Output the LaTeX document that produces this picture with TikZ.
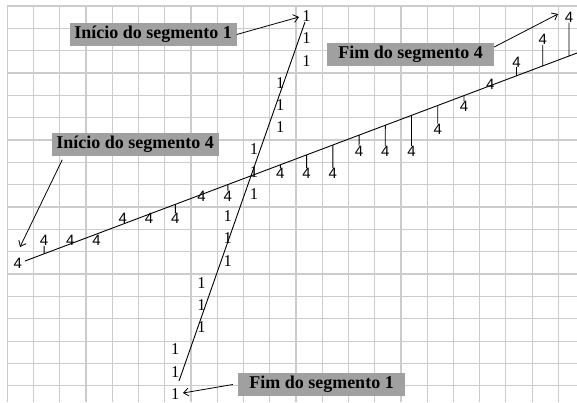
\documentclass[tikz,border=0pt]{standalone}
\usepackage{fontspec}
\setmainfont{Liberation Serif}
\newfontfamily\sansdigits{Liberation Sans}
\usetikzlibrary{arrows.meta,calc}
\definecolor{gridgray}{RGB}{204,204,204}
\definecolor{boxgray}{RGB}{160,160,160}
\begin{document}
\begin{tikzpicture}[x=1pt,y=-1pt,
  gridline/.style={draw=gridgray,line width=1.2pt},
  seg/.style={draw=black,line width=0.9pt},
  tickline/.style={draw=black,line width=0.9pt},
  callout/.style={fill=boxgray,inner sep=0pt,minimum height=23pt,minimum width=167pt,font=\fontsize{18}{18}\selectfont\bfseries},
  pointer/.style={draw=black,line width=0.8pt,-{Straight Barb[length=5pt,width=8pt]}},
  one/.style={inner sep=0pt,font=\fontsize{16.5}{16.5}\selectfont},
  four/.style={inner sep=0pt,font=\sansdigits\fontsize{15}{15}\selectfont},
]
\useasboundingbox (0,0) rectangle (577,402);
\fill[white] (0,0) rectangle (577,402);
% grid
\foreach \k in {0,...,21} \draw[gridline] ({7.3+26.24*\k},6) -- ({7.3+26.24*\k},402);
\foreach \k in {0,...,17} \draw[gridline] (7.3,{6+22.34*\k}) -- (577,{6+22.34*\k});
% segments
\coordinate (s1a) at (179,381);
\coordinate (s1b) at (305,22);
\coordinate (s4a) at (25,261);
\coordinate (s4b) at (577,53);
\draw[seg] (s1a) -- (s1b);
\draw[seg] (s4a) -- (s4b);
% pixels of segment 1
\foreach \i/\j [count=\n] in {11/0,11/1,11/2,10/3,10/4,10/5,9/6,9/7,9/8,8/9,8/10,8/11,7/12,7/13,7/14,6/15,6/16,6/17}
  \node[one] (u\n) at ({17.92+26.24*\i},{16.2+22.34*\j-0.12*\j}) {1};
% pixels of segment 4: no tick
\foreach \i/\j in {0/11,2/10,3/10,4/9,5/9,7/8,18/3}
  \node[four] (f\i) at ({17.92+26.24*\i},{17.17+22.34*\j}) {4};
% label above the line: tick from its bottom
\foreach \i/\j in {1/10,19/2,20/1,21/0}{
  \node[four] (f\i) at ({17.92+26.24*\i},{17.17+22.34*\j}) {4};
  \draw[tickline] (f\i.south) -- (intersection of s4a--s4b and f\i.south--f\i.north);
}
% label below the line: tick from its top
\foreach \i/\j in {6/9,8/8,10/7,11/7,12/7,13/6,14/6,15/6,16/5,17/4}{
  \node[four] (f\i) at ({17.92+26.24*\i},{17.17+22.34*\j}) {4};
  \draw[tickline] (f\i.north) -- (intersection of s4a--s4b and f\i.south--f\i.north);
}
% callouts
\node[callout] (b1) at (153,34.5) {Início do segmento 1};
\node[callout] (b2) at (410.5,54.5) {Fim do segmento 4};
\node[callout] (b3) at (135,144) {Início do segmento 4};
\node[callout] (b4) at (321.5,384.5) {Fim do segmento 1};
\coordinate (t1) at (299,17);
\coordinate (t2) at (558,14);
\coordinate (t3) at (20,247);
\coordinate (t4) at (183,393);
\draw[pointer] (b1.east) -- (t1);
\draw[pointer] ([yshift=7.5pt]b2.east) -- (t2);
\draw[pointer] ([xshift=11pt,yshift=-4pt]b3.south west) -- (t3);
\draw[pointer] ([xshift=-5pt]b4.west) -- (t4);
\end{tikzpicture}
\end{document}
